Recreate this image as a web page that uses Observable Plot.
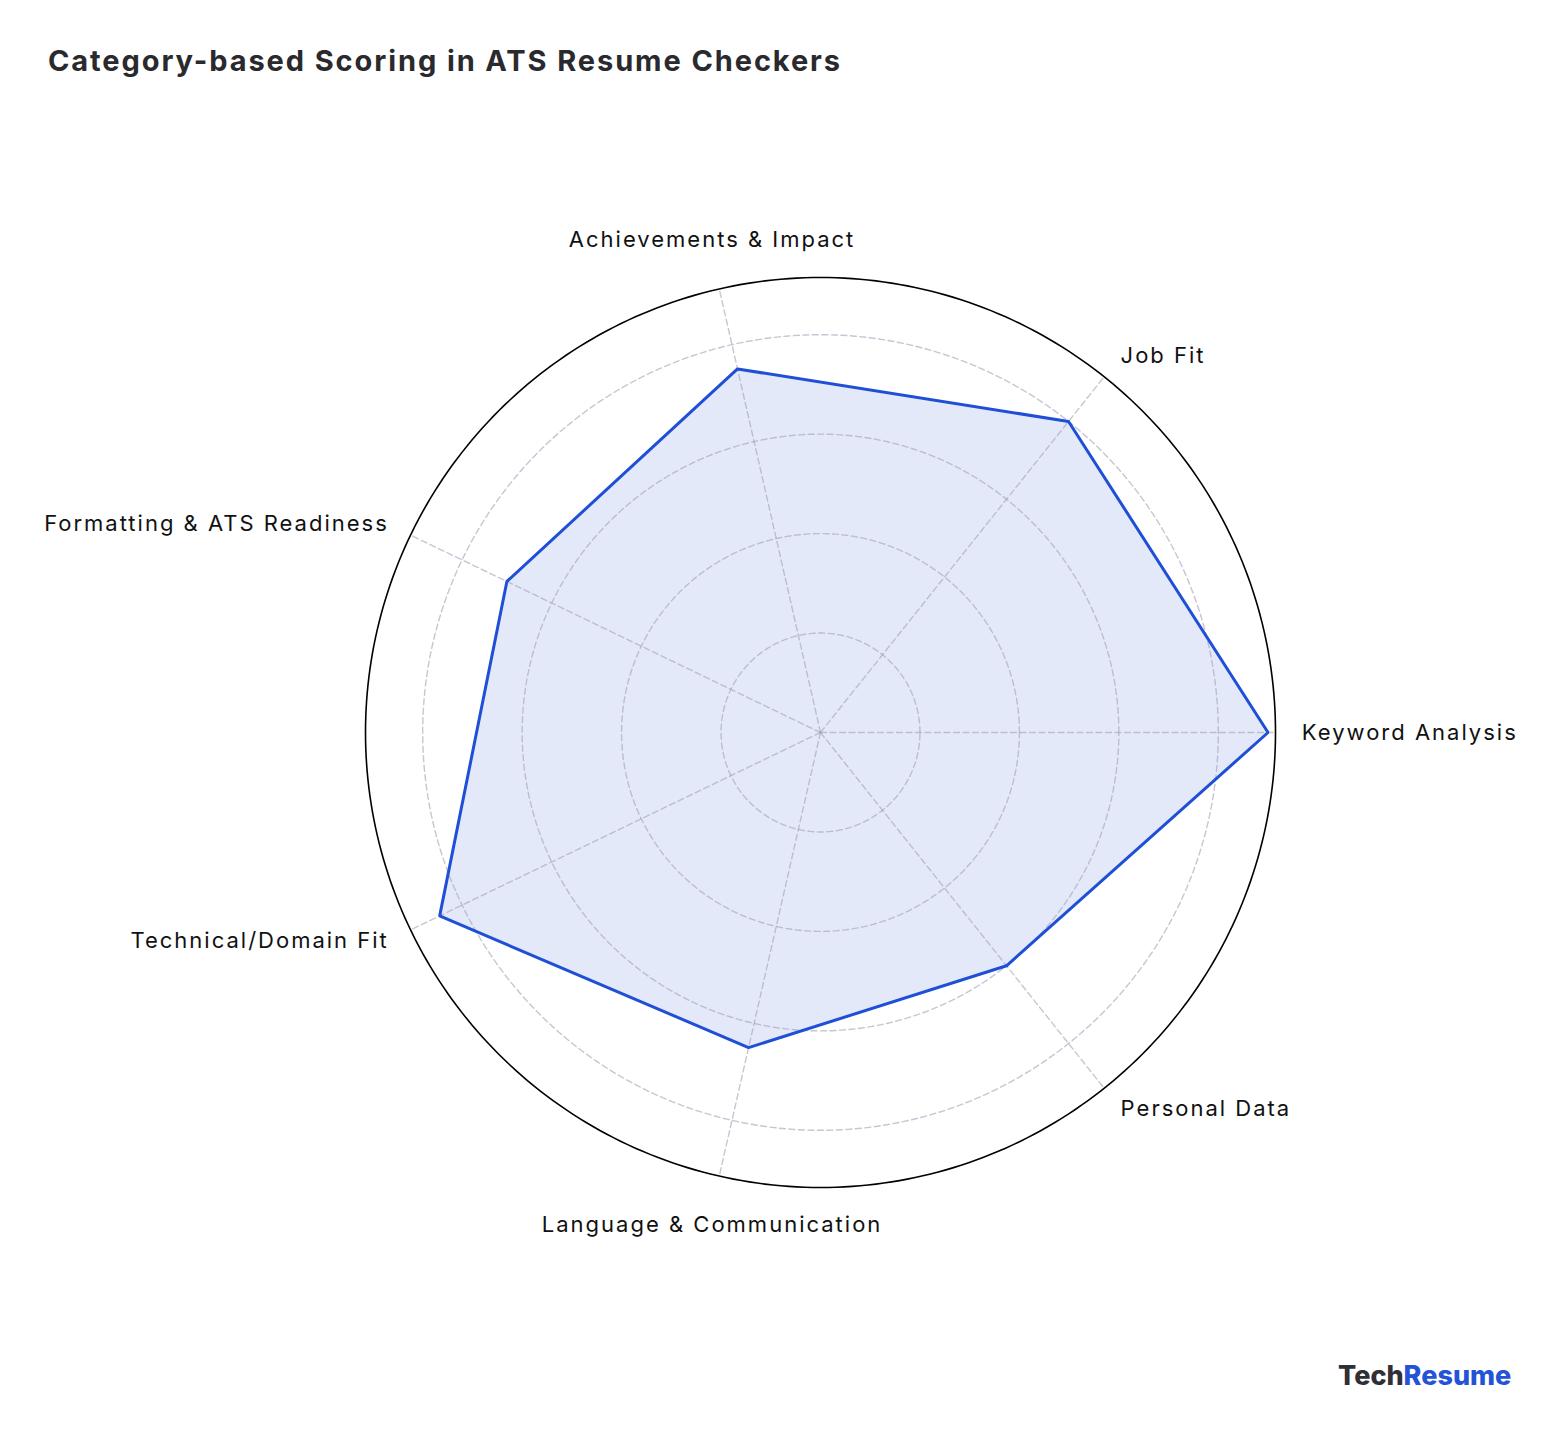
<!DOCTYPE html>
<html>
<head>
<meta charset="utf-8">
<script src="https://cdn.jsdelivr.net/npm/d3@7"></script>
<script src="https://cdn.jsdelivr.net/npm/@observablehq/plot@0.6"></script>
<style>
  html, body { margin: 0; padding: 0; background: #fff; }
  #wrap { position: relative; width: 1560px; height: 1434px; font-family: Inter, "Open Sans", sans-serif; }
  #title { position: absolute; left: 48px; top: 43px; font-size: 29px; font-weight: 700; color: #2a2a2e; letter-spacing: 1.9px; }
  #logo { position: absolute; left: 1338px; top: 1359px; font-size: 27px; font-weight: 800; letter-spacing: 0px; }
  #logo .a { color: #2f2f35; }
  #logo .b { color: #2453d6; }
  #chart { position: absolute; left: 0; top: 0; }
</style>
</head>
<body>
<div id="wrap">
  <div id="chart"></div>
  <div id="title">Category-based Scoring in ATS Resume Checkers</div>
  <div id="logo"><span class="a">Tech</span><span class="b">Resume</span></div>
</div>
<script>
const categories = [
  "Keyword Analysis",
  "Job Fit",
  "Achievements & Impact",
  "Formatting & ATS Readiness",
  "Technical/Domain Fit",
  "Language & Communication",
  "Personal Data"
];
const scores = [90, 80, 75, 70, 85, 65, 60];
const gridLevels = [20, 40, 60, 80];
const rMax = 91.5;

const n = categories.length;
const angle = i => i * 2 * Math.PI / n;
const pts = categories.map((c, i) => ({
  cat: c, v: scores[i],
  x: scores[i] * Math.cos(angle(i)),
  y: scores[i] * Math.sin(angle(i))
}));

function ring(r) {
  const out = [];
  for (let k = 0; k <= 360; k++) {
    const a = k * Math.PI / 180;
    out.push({r, x: r * Math.cos(a), y: r * Math.sin(a)});
  }
  return out;
}
const rings = gridLevels.flatMap(ring);
const outer = ring(rMax);
const spokes = categories.flatMap((c, i) => [
  {cat: c, x: 0, y: 0},
  {cat: c, x: rMax * Math.cos(angle(i)), y: rMax * Math.sin(angle(i))}
]);

const sideR = 96.8, vertR = 101.6;
const labels = categories.map((c, i) => {
  const a = angle(i), cs = Math.cos(a), sn = Math.sin(a);
  const side = cs > 0.3 ? "start" : cs < -0.3 ? "end" : "middle";
  const r = side === "middle" ? vertR : sideR;
  return {cat: c, side, x: r * cs, y: r * sn};
});

const cx = 820, cy = 732, R = 455;
const gridStyle = {stroke: "#a0a0b8", strokeOpacity: 0.6, strokeWidth: 1.4, strokeDasharray: "6,3.5"};

const chart = Plot.plot({
  width: 1560,
  height: 1434,
  margin: 0,
  x: {domain: [-rMax, rMax], range: [cx - R, cx + R], axis: null},
  y: {domain: [-rMax, rMax], range: [cy + R, cy - R], axis: null},
  style: {fontFamily: "Inter, 'Open Sans', sans-serif", background: "transparent", letterSpacing: "2px"},
  marks: [
    Plot.line(pts, {x: "x", y: "y", curve: "linear-closed", fill: "#1d4ed8", fillOpacity: 0.12, stroke: "none"}),
    Plot.line(rings, {x: "x", y: "y", z: "r", ...gridStyle}),
    Plot.line(spokes, {x: "x", y: "y", z: "cat", ...gridStyle}),
    Plot.line(outer, {x: "x", y: "y", stroke: "#000", strokeWidth: 1.6}),
    Plot.line(pts, {x: "x", y: "y", curve: "linear-closed", stroke: "#1f4fd6", strokeWidth: 3, strokeLinejoin: "miter"}),
    ...["start", "end", "middle"].map(side =>
      Plot.text(labels.filter(d => d.side === side), {
        x: "x", y: "y", text: "cat", textAnchor: side, fontSize: 22, fill: "#111",
        dx: side === "middle" ? 4 : side === "end" ? 2 : 0
      })
    )
  ]
});
document.getElementById("chart").appendChild(chart);
</script>
</body>
</html>
